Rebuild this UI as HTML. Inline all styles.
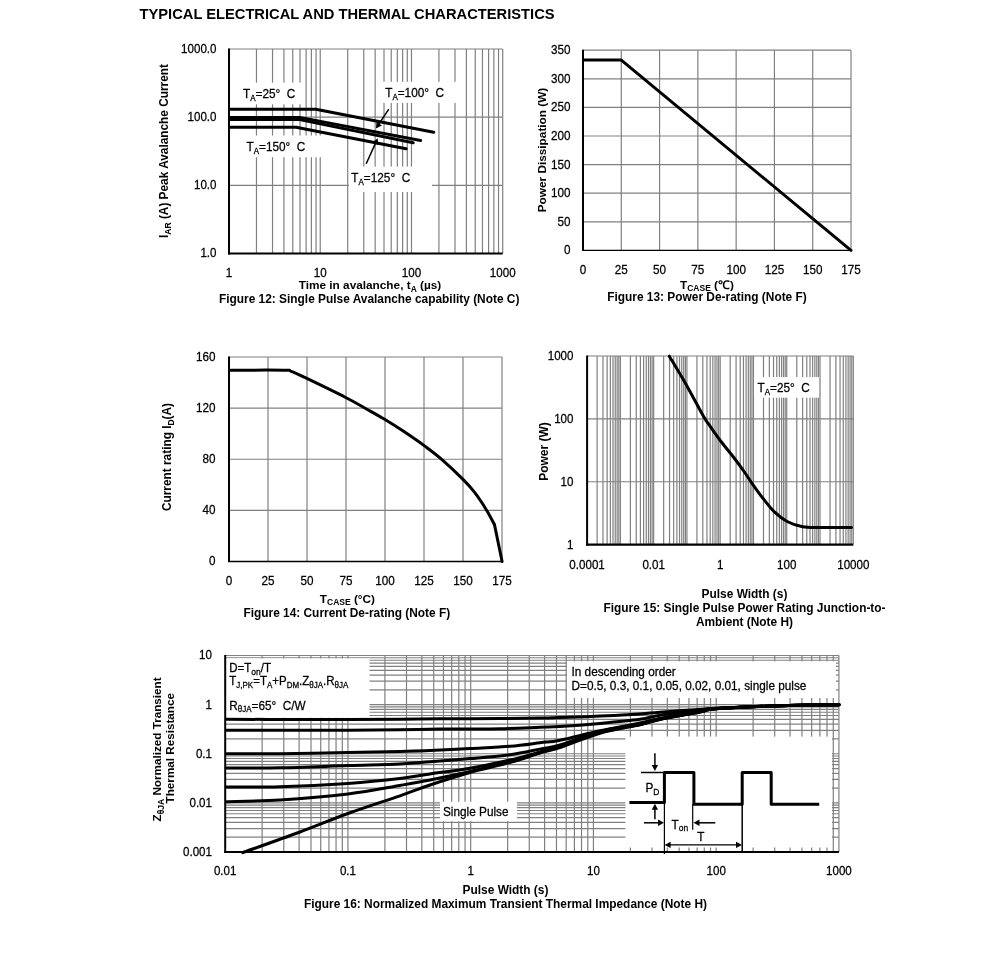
<!DOCTYPE html>
<html><head><meta charset="utf-8"><style>
html,body{margin:0;padding:0;background:#fff;}
svg{display:block;will-change:transform;}
text{font-family:"Liberation Sans",sans-serif;fill:#000;}
text:not([font-weight]){stroke:#000;stroke-width:0.25px;}
</style></head><body>
<svg width="991" height="969" viewBox="0 0 991 969">
<rect width="991" height="969" fill="#fff"/>
<g transform="translate(139.5,18.8) scale(1,1.045)"><text x="0" y="0" font-size="14.71" font-weight="bold" text-anchor="start">TYPICAL ELECTRICAL AND THERMAL CHARACTERISTICS</text></g>
<line x1="256.46" y1="49" x2="256.46" y2="253.5" stroke="#808080" stroke-width="1.2"/>
<line x1="272.53" y1="49" x2="272.53" y2="253.5" stroke="#808080" stroke-width="1.2"/>
<line x1="283.93" y1="49" x2="283.93" y2="253.5" stroke="#808080" stroke-width="1.2"/>
<line x1="292.77" y1="49" x2="292.77" y2="253.5" stroke="#808080" stroke-width="1.2"/>
<line x1="299.99" y1="49" x2="299.99" y2="253.5" stroke="#808080" stroke-width="1.2"/>
<line x1="306.1" y1="49" x2="306.1" y2="253.5" stroke="#808080" stroke-width="1.2"/>
<line x1="311.39" y1="49" x2="311.39" y2="253.5" stroke="#808080" stroke-width="1.2"/>
<line x1="316.06" y1="49" x2="316.06" y2="253.5" stroke="#808080" stroke-width="1.2"/>
<line x1="320.23" y1="49" x2="320.23" y2="253.5" stroke="#808080" stroke-width="1.2"/>
<line x1="347.7" y1="49" x2="347.7" y2="253.5" stroke="#808080" stroke-width="1.2"/>
<line x1="363.76" y1="49" x2="363.76" y2="253.5" stroke="#808080" stroke-width="1.2"/>
<line x1="375.16" y1="49" x2="375.16" y2="253.5" stroke="#808080" stroke-width="1.2"/>
<line x1="384" y1="49" x2="384" y2="253.5" stroke="#808080" stroke-width="1.2"/>
<line x1="391.23" y1="49" x2="391.23" y2="253.5" stroke="#808080" stroke-width="1.2"/>
<line x1="397.33" y1="49" x2="397.33" y2="253.5" stroke="#808080" stroke-width="1.2"/>
<line x1="402.63" y1="49" x2="402.63" y2="253.5" stroke="#808080" stroke-width="1.2"/>
<line x1="407.29" y1="49" x2="407.29" y2="253.5" stroke="#808080" stroke-width="1.2"/>
<line x1="411.47" y1="49" x2="411.47" y2="253.5" stroke="#808080" stroke-width="1.2"/>
<line x1="438.93" y1="49" x2="438.93" y2="253.5" stroke="#808080" stroke-width="1.2"/>
<line x1="455" y1="49" x2="455" y2="253.5" stroke="#808080" stroke-width="1.2"/>
<line x1="466.39" y1="49" x2="466.39" y2="253.5" stroke="#808080" stroke-width="1.2"/>
<line x1="475.24" y1="49" x2="475.24" y2="253.5" stroke="#808080" stroke-width="1.2"/>
<line x1="482.46" y1="49" x2="482.46" y2="253.5" stroke="#808080" stroke-width="1.2"/>
<line x1="488.57" y1="49" x2="488.57" y2="253.5" stroke="#808080" stroke-width="1.2"/>
<line x1="493.86" y1="49" x2="493.86" y2="253.5" stroke="#808080" stroke-width="1.2"/>
<line x1="498.53" y1="49" x2="498.53" y2="253.5" stroke="#808080" stroke-width="1.2"/>
<line x1="502.7" y1="49" x2="502.7" y2="253.5" stroke="#808080" stroke-width="1.2"/>
<line x1="229" y1="185.33" x2="502.7" y2="185.33" stroke="#808080" stroke-width="1.2"/>
<line x1="229" y1="117.17" x2="502.7" y2="117.17" stroke="#808080" stroke-width="1.2"/>
<line x1="229" y1="49" x2="502.7" y2="49" stroke="#808080" stroke-width="1.2"/>
<rect x="230" y="82.6" width="72" height="21.7" fill="#fff"/>
<rect x="230" y="135.5" width="100" height="21.7" fill="#fff"/>
<rect x="377" y="81.8" width="85" height="21.1" fill="#fff"/>
<rect x="348.9" y="166.6" width="83.1" height="25.4" fill="#fff"/>
<line x1="229" y1="48.5" x2="229" y2="254.5" stroke="#000" stroke-width="2"/>
<line x1="228" y1="253.5" x2="502.7" y2="253.5" stroke="#000" stroke-width="2.2"/>
<polyline points="230.5,109.3 315.8,109.3 433.7,132.2" fill="none" stroke="#000" stroke-width="3" stroke-linejoin="round" stroke-linecap="round"/>
<polyline points="230.5,117.4 299.6,117.4 420.6,140.5" fill="none" stroke="#000" stroke-width="3" stroke-linejoin="round" stroke-linecap="round"/>
<polyline points="230.5,119.6 299.6,119.6 413.2,142.8" fill="none" stroke="#000" stroke-width="3" stroke-linejoin="round" stroke-linecap="round"/>
<polyline points="230.5,127.3 296.1,127.3 406.1,148.8" fill="none" stroke="#000" stroke-width="3" stroke-linejoin="round" stroke-linecap="round"/>
<line x1="388.8" y1="109.2" x2="378.67" y2="124.44" stroke="#000" stroke-width="1.5"/>
<polygon points="375.9,128.6 376.56,121.83 381.89,125.38" fill="#000"/>
<line x1="366.2" y1="163.7" x2="375.64" y2="142.85" stroke="#000" stroke-width="1.5"/>
<polygon points="377.7,138.3 378.14,145.09 372.31,142.45" fill="#000"/>
<g transform="translate(243,97.7) scale(1,1.085)"><text x="0" y="0" font-size="11.8" text-anchor="start">T<tspan font-size="8" dy="2.6">A</tspan><tspan dy="-2.6">=</tspan>25°&#160;&#160;C</text></g>
<g transform="translate(246.5,150.7) scale(1,1.085)"><text x="0" y="0" font-size="11.8" text-anchor="start">T<tspan font-size="8" dy="2.6">A</tspan><tspan dy="-2.6">=</tspan>150°&#160;&#160;C</text></g>
<g transform="translate(385.2,96.9) scale(1,1.085)"><text x="0" y="0" font-size="11.8" text-anchor="start">T<tspan font-size="8" dy="2.6">A</tspan><tspan dy="-2.6">=</tspan>100°&#160;&#160;C</text></g>
<g transform="translate(351.3,182) scale(1,1.085)"><text x="0" y="0" font-size="11.8" text-anchor="start">T<tspan font-size="8" dy="2.6">A</tspan><tspan dy="-2.6">=</tspan>125°&#160;&#160;C</text></g>
<g transform="translate(216.5,257.4) scale(1,1.08)"><text x="0" y="0" font-size="11.6" text-anchor="end">1.0</text></g>
<g transform="translate(216.5,189.23) scale(1,1.08)"><text x="0" y="0" font-size="11.6" text-anchor="end">10.0</text></g>
<g transform="translate(216.5,121.07) scale(1,1.08)"><text x="0" y="0" font-size="11.6" text-anchor="end">100.0</text></g>
<g transform="translate(216.5,52.9) scale(1,1.08)"><text x="0" y="0" font-size="11.6" text-anchor="end">1000.0</text></g>
<g transform="translate(229,276.8) scale(1,1.08)"><text x="0" y="0" font-size="11.6" text-anchor="middle">1</text></g>
<g transform="translate(320.23,276.8) scale(1,1.08)"><text x="0" y="0" font-size="11.6" text-anchor="middle">10</text></g>
<g transform="translate(411.47,276.8) scale(1,1.08)"><text x="0" y="0" font-size="11.6" text-anchor="middle">100</text></g>
<g transform="translate(502.7,276.8) scale(1,1.08)"><text x="0" y="0" font-size="11.6" text-anchor="middle">1000</text></g>
<text x="370" y="288.6" font-size="11.8" font-weight="bold" text-anchor="middle">Time in avalanche, t<tspan font-size="8.5" dy="3">A</tspan><tspan dy="-3"> (µs)</tspan></text>
<text x="369.2" y="302.7" font-size="11.9" font-weight="bold" text-anchor="middle">Figure 12: Single Pulse Avalanche capability (Note C)</text>
<text x="0" y="0" font-size="11.85" font-weight="bold" text-anchor="middle" transform="translate(167.9,151) rotate(-90)">I<tspan font-size="8.5" dy="3">AR</tspan><tspan dy="-3"> (A) Peak Avalanche Current</tspan></text>
<line x1="621.29" y1="50.2" x2="621.29" y2="250.4" stroke="#808080" stroke-width="1.2"/>
<line x1="659.57" y1="50.2" x2="659.57" y2="250.4" stroke="#808080" stroke-width="1.2"/>
<line x1="697.86" y1="50.2" x2="697.86" y2="250.4" stroke="#808080" stroke-width="1.2"/>
<line x1="736.14" y1="50.2" x2="736.14" y2="250.4" stroke="#808080" stroke-width="1.2"/>
<line x1="774.43" y1="50.2" x2="774.43" y2="250.4" stroke="#808080" stroke-width="1.2"/>
<line x1="812.71" y1="50.2" x2="812.71" y2="250.4" stroke="#808080" stroke-width="1.2"/>
<line x1="851" y1="50.2" x2="851" y2="250.4" stroke="#808080" stroke-width="1.2"/>
<line x1="583" y1="221.8" x2="851" y2="221.8" stroke="#808080" stroke-width="1.2"/>
<line x1="583" y1="193.2" x2="851" y2="193.2" stroke="#808080" stroke-width="1.2"/>
<line x1="583" y1="164.6" x2="851" y2="164.6" stroke="#808080" stroke-width="1.2"/>
<line x1="583" y1="136" x2="851" y2="136" stroke="#808080" stroke-width="1.2"/>
<line x1="583" y1="107.4" x2="851" y2="107.4" stroke="#808080" stroke-width="1.2"/>
<line x1="583" y1="78.8" x2="851" y2="78.8" stroke="#808080" stroke-width="1.2"/>
<line x1="583" y1="50.2" x2="851" y2="50.2" stroke="#808080" stroke-width="1.2"/>
<line x1="583" y1="49.7" x2="583" y2="250.9" stroke="#000" stroke-width="2"/>
<line x1="582" y1="250.4" x2="851" y2="250.4" stroke="#000" stroke-width="1.3"/>
<polyline points="584.5,60.1 621.3,60.1 851,250.4" fill="none" stroke="#000" stroke-width="3" stroke-linejoin="round" stroke-linecap="round"/>
<g transform="translate(570.5,254.3) scale(1,1.08)"><text x="0" y="0" font-size="11.7" text-anchor="end">0</text></g>
<g transform="translate(583,273.6) scale(1,1.08)"><text x="0" y="0" font-size="11.7" text-anchor="middle">0</text></g>
<g transform="translate(570.5,225.7) scale(1,1.08)"><text x="0" y="0" font-size="11.7" text-anchor="end">50</text></g>
<g transform="translate(621.29,273.6) scale(1,1.08)"><text x="0" y="0" font-size="11.7" text-anchor="middle">25</text></g>
<g transform="translate(570.5,197.1) scale(1,1.08)"><text x="0" y="0" font-size="11.7" text-anchor="end">100</text></g>
<g transform="translate(659.57,273.6) scale(1,1.08)"><text x="0" y="0" font-size="11.7" text-anchor="middle">50</text></g>
<g transform="translate(570.5,168.5) scale(1,1.08)"><text x="0" y="0" font-size="11.7" text-anchor="end">150</text></g>
<g transform="translate(697.86,273.6) scale(1,1.08)"><text x="0" y="0" font-size="11.7" text-anchor="middle">75</text></g>
<g transform="translate(570.5,139.9) scale(1,1.08)"><text x="0" y="0" font-size="11.7" text-anchor="end">200</text></g>
<g transform="translate(736.14,273.6) scale(1,1.08)"><text x="0" y="0" font-size="11.7" text-anchor="middle">100</text></g>
<g transform="translate(570.5,111.3) scale(1,1.08)"><text x="0" y="0" font-size="11.7" text-anchor="end">250</text></g>
<g transform="translate(774.43,273.6) scale(1,1.08)"><text x="0" y="0" font-size="11.7" text-anchor="middle">125</text></g>
<g transform="translate(570.5,82.7) scale(1,1.08)"><text x="0" y="0" font-size="11.7" text-anchor="end">300</text></g>
<g transform="translate(812.71,273.6) scale(1,1.08)"><text x="0" y="0" font-size="11.7" text-anchor="middle">150</text></g>
<g transform="translate(570.5,54.1) scale(1,1.08)"><text x="0" y="0" font-size="11.7" text-anchor="end">350</text></g>
<g transform="translate(851,273.6) scale(1,1.08)"><text x="0" y="0" font-size="11.7" text-anchor="middle">175</text></g>
<text x="680" y="289" font-size="11.8" font-weight="bold" text-anchor="start">T<tspan font-size="8.5" dy="2">CASE</tspan><tspan dy="-2"> (℃)</tspan></text>
<text x="707" y="301.2" font-size="11.9" font-weight="bold" text-anchor="middle">Figure 13: Power De-rating (Note F)</text>
<text x="0" y="0" font-size="11.8" font-weight="bold" text-anchor="middle" transform="translate(545.5,150) rotate(-90)">Power Dissipation (W)</text>
<line x1="268" y1="357" x2="268" y2="561.5" stroke="#808080" stroke-width="1.2"/>
<line x1="307" y1="357" x2="307" y2="561.5" stroke="#808080" stroke-width="1.2"/>
<line x1="346" y1="357" x2="346" y2="561.5" stroke="#808080" stroke-width="1.2"/>
<line x1="385" y1="357" x2="385" y2="561.5" stroke="#808080" stroke-width="1.2"/>
<line x1="424" y1="357" x2="424" y2="561.5" stroke="#808080" stroke-width="1.2"/>
<line x1="463" y1="357" x2="463" y2="561.5" stroke="#808080" stroke-width="1.2"/>
<line x1="502" y1="357" x2="502" y2="561.5" stroke="#808080" stroke-width="1.2"/>
<line x1="229" y1="510.38" x2="502" y2="510.38" stroke="#808080" stroke-width="1.2"/>
<line x1="229" y1="459.25" x2="502" y2="459.25" stroke="#808080" stroke-width="1.2"/>
<line x1="229" y1="408.12" x2="502" y2="408.12" stroke="#808080" stroke-width="1.2"/>
<line x1="229" y1="357" x2="502" y2="357" stroke="#808080" stroke-width="1.2"/>
<line x1="229" y1="356.5" x2="229" y2="562" stroke="#000" stroke-width="2"/>
<line x1="228" y1="561.5" x2="502" y2="561.5" stroke="#000" stroke-width="1.6"/>
<path d="M230.5,370.2 C239.35,370.2 273.48,370 283.6,370.2 C293.72,370.4 287.42,370.07 291.2,371.4 C294.98,372.73 297.22,373.85 306.3,378.2 C315.38,382.55 335.6,392.33 345.7,397.5 C355.8,402.67 360.35,405.53 366.9,409.2 C373.45,412.87 378.95,415.85 385,419.5 C391.05,423.15 396.62,426.7 403.2,431.1 C409.78,435.5 418.32,441.38 424.5,445.9 C430.68,450.42 433.8,452.53 440.3,458.2 C446.8,463.87 457.72,474.12 463.5,479.9 C469.28,485.68 471.15,487.85 475,492.9 C478.85,497.95 483.35,504.9 486.6,510.2 C489.85,515.5 493.18,522.28 494.5,524.7" fill="none" stroke="#000" stroke-width="3" stroke-linejoin="round" stroke-linecap="round"/>
<polyline points="494.5,524.7 502.1,561.5" fill="none" stroke="#000" stroke-width="3" stroke-linejoin="round" stroke-linecap="round"/>
<g transform="translate(215.5,565.4) scale(1,1.08)"><text x="0" y="0" font-size="11.7" text-anchor="end">0</text></g>
<g transform="translate(215.5,514.27) scale(1,1.08)"><text x="0" y="0" font-size="11.7" text-anchor="end">40</text></g>
<g transform="translate(215.5,463.15) scale(1,1.08)"><text x="0" y="0" font-size="11.7" text-anchor="end">80</text></g>
<g transform="translate(215.5,412.02) scale(1,1.08)"><text x="0" y="0" font-size="11.7" text-anchor="end">120</text></g>
<g transform="translate(215.5,360.9) scale(1,1.08)"><text x="0" y="0" font-size="11.7" text-anchor="end">160</text></g>
<g transform="translate(229,584.6) scale(1,1.08)"><text x="0" y="0" font-size="11.7" text-anchor="middle">0</text></g>
<g transform="translate(268,584.6) scale(1,1.08)"><text x="0" y="0" font-size="11.7" text-anchor="middle">25</text></g>
<g transform="translate(307,584.6) scale(1,1.08)"><text x="0" y="0" font-size="11.7" text-anchor="middle">50</text></g>
<g transform="translate(346,584.6) scale(1,1.08)"><text x="0" y="0" font-size="11.7" text-anchor="middle">75</text></g>
<g transform="translate(385,584.6) scale(1,1.08)"><text x="0" y="0" font-size="11.7" text-anchor="middle">100</text></g>
<g transform="translate(424,584.6) scale(1,1.08)"><text x="0" y="0" font-size="11.7" text-anchor="middle">125</text></g>
<g transform="translate(463,584.6) scale(1,1.08)"><text x="0" y="0" font-size="11.7" text-anchor="middle">150</text></g>
<g transform="translate(502,584.6) scale(1,1.08)"><text x="0" y="0" font-size="11.7" text-anchor="middle">175</text></g>
<text x="319.8" y="602.8" font-size="11.8" font-weight="bold" text-anchor="start">T<tspan font-size="8.5" dy="2">CASE</tspan><tspan dy="-2"> (°C)</tspan></text>
<text x="346.8" y="616.8" font-size="11.9" font-weight="bold" text-anchor="middle">Figure 14: Current De-rating (Note F)</text>
<text x="0" y="0" font-size="11.85" font-weight="bold" text-anchor="middle" transform="translate(170.5,457) rotate(-90)">Current rating I<tspan font-size="8.5" dy="3">D</tspan><tspan dy="-3">(A)</tspan></text>
<line x1="597.12" y1="356" x2="597.12" y2="544.6" stroke="#808080" stroke-width="1.2"/>
<line x1="602.98" y1="356" x2="602.98" y2="544.6" stroke="#808080" stroke-width="1.2"/>
<line x1="607.13" y1="356" x2="607.13" y2="544.6" stroke="#808080" stroke-width="1.2"/>
<line x1="610.36" y1="356" x2="610.36" y2="544.6" stroke="#808080" stroke-width="1.2"/>
<line x1="612.99" y1="356" x2="612.99" y2="544.6" stroke="#808080" stroke-width="1.2"/>
<line x1="615.22" y1="356" x2="615.22" y2="544.6" stroke="#808080" stroke-width="1.2"/>
<line x1="617.15" y1="356" x2="617.15" y2="544.6" stroke="#808080" stroke-width="1.2"/>
<line x1="618.85" y1="356" x2="618.85" y2="544.6" stroke="#808080" stroke-width="1.2"/>
<line x1="620.38" y1="356" x2="620.38" y2="544.6" stroke="#808080" stroke-width="1.2"/>
<line x1="630.39" y1="356" x2="630.39" y2="544.6" stroke="#808080" stroke-width="1.2"/>
<line x1="636.25" y1="356" x2="636.25" y2="544.6" stroke="#808080" stroke-width="1.2"/>
<line x1="640.41" y1="356" x2="640.41" y2="544.6" stroke="#808080" stroke-width="1.2"/>
<line x1="643.63" y1="356" x2="643.63" y2="544.6" stroke="#808080" stroke-width="1.2"/>
<line x1="646.27" y1="356" x2="646.27" y2="544.6" stroke="#808080" stroke-width="1.2"/>
<line x1="648.5" y1="356" x2="648.5" y2="544.6" stroke="#808080" stroke-width="1.2"/>
<line x1="650.43" y1="356" x2="650.43" y2="544.6" stroke="#808080" stroke-width="1.2"/>
<line x1="652.13" y1="356" x2="652.13" y2="544.6" stroke="#808080" stroke-width="1.2"/>
<line x1="653.65" y1="356" x2="653.65" y2="544.6" stroke="#808080" stroke-width="1.2"/>
<line x1="663.67" y1="356" x2="663.67" y2="544.6" stroke="#808080" stroke-width="1.2"/>
<line x1="669.53" y1="356" x2="669.53" y2="544.6" stroke="#808080" stroke-width="1.2"/>
<line x1="673.68" y1="356" x2="673.68" y2="544.6" stroke="#808080" stroke-width="1.2"/>
<line x1="676.91" y1="356" x2="676.91" y2="544.6" stroke="#808080" stroke-width="1.2"/>
<line x1="679.54" y1="356" x2="679.54" y2="544.6" stroke="#808080" stroke-width="1.2"/>
<line x1="681.77" y1="356" x2="681.77" y2="544.6" stroke="#808080" stroke-width="1.2"/>
<line x1="683.7" y1="356" x2="683.7" y2="544.6" stroke="#808080" stroke-width="1.2"/>
<line x1="685.4" y1="356" x2="685.4" y2="544.6" stroke="#808080" stroke-width="1.2"/>
<line x1="686.92" y1="356" x2="686.92" y2="544.6" stroke="#808080" stroke-width="1.2"/>
<line x1="696.94" y1="356" x2="696.94" y2="544.6" stroke="#808080" stroke-width="1.2"/>
<line x1="702.8" y1="356" x2="702.8" y2="544.6" stroke="#808080" stroke-width="1.2"/>
<line x1="706.96" y1="356" x2="706.96" y2="544.6" stroke="#808080" stroke-width="1.2"/>
<line x1="710.18" y1="356" x2="710.18" y2="544.6" stroke="#808080" stroke-width="1.2"/>
<line x1="712.82" y1="356" x2="712.82" y2="544.6" stroke="#808080" stroke-width="1.2"/>
<line x1="715.05" y1="356" x2="715.05" y2="544.6" stroke="#808080" stroke-width="1.2"/>
<line x1="716.98" y1="356" x2="716.98" y2="544.6" stroke="#808080" stroke-width="1.2"/>
<line x1="718.68" y1="356" x2="718.68" y2="544.6" stroke="#808080" stroke-width="1.2"/>
<line x1="720.2" y1="356" x2="720.2" y2="544.6" stroke="#808080" stroke-width="1.2"/>
<line x1="730.22" y1="356" x2="730.22" y2="544.6" stroke="#808080" stroke-width="1.2"/>
<line x1="736.08" y1="356" x2="736.08" y2="544.6" stroke="#808080" stroke-width="1.2"/>
<line x1="740.23" y1="356" x2="740.23" y2="544.6" stroke="#808080" stroke-width="1.2"/>
<line x1="743.46" y1="356" x2="743.46" y2="544.6" stroke="#808080" stroke-width="1.2"/>
<line x1="746.09" y1="356" x2="746.09" y2="544.6" stroke="#808080" stroke-width="1.2"/>
<line x1="748.32" y1="356" x2="748.32" y2="544.6" stroke="#808080" stroke-width="1.2"/>
<line x1="750.25" y1="356" x2="750.25" y2="544.6" stroke="#808080" stroke-width="1.2"/>
<line x1="751.95" y1="356" x2="751.95" y2="544.6" stroke="#808080" stroke-width="1.2"/>
<line x1="753.47" y1="356" x2="753.47" y2="544.6" stroke="#808080" stroke-width="1.2"/>
<line x1="763.49" y1="356" x2="763.49" y2="544.6" stroke="#808080" stroke-width="1.2"/>
<line x1="769.35" y1="356" x2="769.35" y2="544.6" stroke="#808080" stroke-width="1.2"/>
<line x1="773.51" y1="356" x2="773.51" y2="544.6" stroke="#808080" stroke-width="1.2"/>
<line x1="776.73" y1="356" x2="776.73" y2="544.6" stroke="#808080" stroke-width="1.2"/>
<line x1="779.37" y1="356" x2="779.37" y2="544.6" stroke="#808080" stroke-width="1.2"/>
<line x1="781.6" y1="356" x2="781.6" y2="544.6" stroke="#808080" stroke-width="1.2"/>
<line x1="783.53" y1="356" x2="783.53" y2="544.6" stroke="#808080" stroke-width="1.2"/>
<line x1="785.23" y1="356" x2="785.23" y2="544.6" stroke="#808080" stroke-width="1.2"/>
<line x1="786.75" y1="356" x2="786.75" y2="544.6" stroke="#808080" stroke-width="1.2"/>
<line x1="796.77" y1="356" x2="796.77" y2="544.6" stroke="#808080" stroke-width="1.2"/>
<line x1="802.63" y1="356" x2="802.63" y2="544.6" stroke="#808080" stroke-width="1.2"/>
<line x1="806.78" y1="356" x2="806.78" y2="544.6" stroke="#808080" stroke-width="1.2"/>
<line x1="810.01" y1="356" x2="810.01" y2="544.6" stroke="#808080" stroke-width="1.2"/>
<line x1="812.64" y1="356" x2="812.64" y2="544.6" stroke="#808080" stroke-width="1.2"/>
<line x1="814.87" y1="356" x2="814.87" y2="544.6" stroke="#808080" stroke-width="1.2"/>
<line x1="816.8" y1="356" x2="816.8" y2="544.6" stroke="#808080" stroke-width="1.2"/>
<line x1="818.5" y1="356" x2="818.5" y2="544.6" stroke="#808080" stroke-width="1.2"/>
<line x1="820.02" y1="356" x2="820.02" y2="544.6" stroke="#808080" stroke-width="1.2"/>
<line x1="830.04" y1="356" x2="830.04" y2="544.6" stroke="#808080" stroke-width="1.2"/>
<line x1="835.9" y1="356" x2="835.9" y2="544.6" stroke="#808080" stroke-width="1.2"/>
<line x1="840.06" y1="356" x2="840.06" y2="544.6" stroke="#808080" stroke-width="1.2"/>
<line x1="843.28" y1="356" x2="843.28" y2="544.6" stroke="#808080" stroke-width="1.2"/>
<line x1="845.92" y1="356" x2="845.92" y2="544.6" stroke="#808080" stroke-width="1.2"/>
<line x1="848.15" y1="356" x2="848.15" y2="544.6" stroke="#808080" stroke-width="1.2"/>
<line x1="850.08" y1="356" x2="850.08" y2="544.6" stroke="#808080" stroke-width="1.2"/>
<line x1="851.78" y1="356" x2="851.78" y2="544.6" stroke="#808080" stroke-width="1.2"/>
<line x1="853.3" y1="356" x2="853.3" y2="544.6" stroke="#808080" stroke-width="1.2"/>
<line x1="587.1" y1="481.73" x2="853.3" y2="481.73" stroke="#808080" stroke-width="1.2"/>
<line x1="587.1" y1="418.87" x2="853.3" y2="418.87" stroke="#808080" stroke-width="1.2"/>
<line x1="587.1" y1="356" x2="853.3" y2="356" stroke="#808080" stroke-width="1.2"/>
<rect x="754" y="377.1" width="65" height="20.6" fill="#fff"/>
<line x1="587.1" y1="355.5" x2="587.1" y2="545.6" stroke="#000" stroke-width="2"/>
<line x1="586.1" y1="544.6" x2="853.3" y2="544.6" stroke="#000" stroke-width="2.2"/>
<path d="M669.3,356.2 C672.05,360.83 680.13,374.03 685.8,384 C691.47,393.97 699.35,409.12 703.3,416 C707.25,422.88 706.55,421.05 709.5,425.3 C712.45,429.55 717.02,436.22 721,441.5 C724.98,446.78 729.62,452.08 733.4,457 C737.18,461.92 740.6,466.62 743.7,471 C746.8,475.38 748.73,478.67 752,483.3 C755.27,487.93 759.52,493.98 763.3,498.8 C767.08,503.62 770.73,508.42 774.7,512.2 C778.67,515.98 782.45,519.08 787.1,521.5 C791.75,523.92 797.12,525.7 802.6,526.7 C808.08,527.7 811.85,527.37 820,527.5 C828.15,527.63 846.25,527.5 851.5,527.5" fill="none" stroke="#000" stroke-width="3" stroke-linejoin="round" stroke-linecap="round"/>
<g transform="translate(757.5,392) scale(1,1.085)"><text x="0" y="0" font-size="11.8" text-anchor="start">T<tspan font-size="8" dy="2.6">A</tspan><tspan dy="-2.6">=</tspan>25°&#160;&#160;C</text></g>
<g transform="translate(573.5,548.5) scale(1,1.08)"><text x="0" y="0" font-size="11.6" text-anchor="end">1</text></g>
<g transform="translate(573.5,485.63) scale(1,1.08)"><text x="0" y="0" font-size="11.6" text-anchor="end">10</text></g>
<g transform="translate(573.5,422.77) scale(1,1.08)"><text x="0" y="0" font-size="11.6" text-anchor="end">100</text></g>
<g transform="translate(573.5,359.9) scale(1,1.08)"><text x="0" y="0" font-size="11.6" text-anchor="end">1000</text></g>
<g transform="translate(587.1,569.4) scale(1,1.08)"><text x="0" y="0" font-size="11.6" text-anchor="middle">0.0001</text></g>
<g transform="translate(653.65,569.4) scale(1,1.08)"><text x="0" y="0" font-size="11.6" text-anchor="middle">0.01</text></g>
<g transform="translate(720.2,569.4) scale(1,1.08)"><text x="0" y="0" font-size="11.6" text-anchor="middle">1</text></g>
<g transform="translate(786.75,569.4) scale(1,1.08)"><text x="0" y="0" font-size="11.6" text-anchor="middle">100</text></g>
<g transform="translate(853.3,569.4) scale(1,1.08)"><text x="0" y="0" font-size="11.6" text-anchor="middle">10000</text></g>
<text x="744.5" y="598.4" font-size="11.9" font-weight="bold" text-anchor="middle">Pulse Width (s)</text>
<text x="744.5" y="612.3" font-size="11.9" font-weight="bold" text-anchor="middle">Figure 15: Single Pulse Power Rating Junction-to-</text>
<text x="744.5" y="625.9" font-size="11.9" font-weight="bold" text-anchor="middle">Ambient (Note H)</text>
<text x="0" y="0" font-size="12" font-weight="bold" text-anchor="middle" transform="translate(548,451.5) rotate(-90)">Power (W)</text>
<line x1="262.15" y1="655.5" x2="262.15" y2="852" stroke="#808080" stroke-width="1.2"/>
<line x1="283.76" y1="655.5" x2="283.76" y2="852" stroke="#808080" stroke-width="1.2"/>
<line x1="299.1" y1="655.5" x2="299.1" y2="852" stroke="#808080" stroke-width="1.2"/>
<line x1="310.99" y1="655.5" x2="310.99" y2="852" stroke="#808080" stroke-width="1.2"/>
<line x1="320.71" y1="655.5" x2="320.71" y2="852" stroke="#808080" stroke-width="1.2"/>
<line x1="328.93" y1="655.5" x2="328.93" y2="852" stroke="#808080" stroke-width="1.2"/>
<line x1="336.05" y1="655.5" x2="336.05" y2="852" stroke="#808080" stroke-width="1.2"/>
<line x1="342.32" y1="655.5" x2="342.32" y2="852" stroke="#808080" stroke-width="1.2"/>
<line x1="347.94" y1="655.5" x2="347.94" y2="852" stroke="#808080" stroke-width="1.2"/>
<line x1="384.89" y1="655.5" x2="384.89" y2="852" stroke="#808080" stroke-width="1.2"/>
<line x1="406.5" y1="655.5" x2="406.5" y2="852" stroke="#808080" stroke-width="1.2"/>
<line x1="421.84" y1="655.5" x2="421.84" y2="852" stroke="#808080" stroke-width="1.2"/>
<line x1="433.73" y1="655.5" x2="433.73" y2="852" stroke="#808080" stroke-width="1.2"/>
<line x1="443.45" y1="655.5" x2="443.45" y2="852" stroke="#808080" stroke-width="1.2"/>
<line x1="451.67" y1="655.5" x2="451.67" y2="852" stroke="#808080" stroke-width="1.2"/>
<line x1="458.79" y1="655.5" x2="458.79" y2="852" stroke="#808080" stroke-width="1.2"/>
<line x1="465.06" y1="655.5" x2="465.06" y2="852" stroke="#808080" stroke-width="1.2"/>
<line x1="470.68" y1="655.5" x2="470.68" y2="852" stroke="#808080" stroke-width="1.2"/>
<line x1="507.63" y1="655.5" x2="507.63" y2="852" stroke="#808080" stroke-width="1.2"/>
<line x1="529.24" y1="655.5" x2="529.24" y2="852" stroke="#808080" stroke-width="1.2"/>
<line x1="544.58" y1="655.5" x2="544.58" y2="852" stroke="#808080" stroke-width="1.2"/>
<line x1="556.47" y1="655.5" x2="556.47" y2="852" stroke="#808080" stroke-width="1.2"/>
<line x1="566.19" y1="655.5" x2="566.19" y2="852" stroke="#808080" stroke-width="1.2"/>
<line x1="574.41" y1="655.5" x2="574.41" y2="852" stroke="#808080" stroke-width="1.2"/>
<line x1="581.53" y1="655.5" x2="581.53" y2="852" stroke="#808080" stroke-width="1.2"/>
<line x1="587.8" y1="655.5" x2="587.8" y2="852" stroke="#808080" stroke-width="1.2"/>
<line x1="593.42" y1="655.5" x2="593.42" y2="852" stroke="#808080" stroke-width="1.2"/>
<line x1="630.37" y1="655.5" x2="630.37" y2="852" stroke="#808080" stroke-width="1.2"/>
<line x1="651.98" y1="655.5" x2="651.98" y2="852" stroke="#808080" stroke-width="1.2"/>
<line x1="667.32" y1="655.5" x2="667.32" y2="852" stroke="#808080" stroke-width="1.2"/>
<line x1="679.21" y1="655.5" x2="679.21" y2="852" stroke="#808080" stroke-width="1.2"/>
<line x1="688.93" y1="655.5" x2="688.93" y2="852" stroke="#808080" stroke-width="1.2"/>
<line x1="697.15" y1="655.5" x2="697.15" y2="852" stroke="#808080" stroke-width="1.2"/>
<line x1="704.27" y1="655.5" x2="704.27" y2="852" stroke="#808080" stroke-width="1.2"/>
<line x1="710.54" y1="655.5" x2="710.54" y2="852" stroke="#808080" stroke-width="1.2"/>
<line x1="716.16" y1="655.5" x2="716.16" y2="852" stroke="#808080" stroke-width="1.2"/>
<line x1="753.11" y1="655.5" x2="753.11" y2="852" stroke="#808080" stroke-width="1.2"/>
<line x1="774.72" y1="655.5" x2="774.72" y2="852" stroke="#808080" stroke-width="1.2"/>
<line x1="790.06" y1="655.5" x2="790.06" y2="852" stroke="#808080" stroke-width="1.2"/>
<line x1="801.95" y1="655.5" x2="801.95" y2="852" stroke="#808080" stroke-width="1.2"/>
<line x1="811.67" y1="655.5" x2="811.67" y2="852" stroke="#808080" stroke-width="1.2"/>
<line x1="819.89" y1="655.5" x2="819.89" y2="852" stroke="#808080" stroke-width="1.2"/>
<line x1="827.01" y1="655.5" x2="827.01" y2="852" stroke="#808080" stroke-width="1.2"/>
<line x1="833.28" y1="655.5" x2="833.28" y2="852" stroke="#808080" stroke-width="1.2"/>
<line x1="838.9" y1="655.5" x2="838.9" y2="852" stroke="#808080" stroke-width="1.2"/>
<line x1="225.2" y1="837.21" x2="838.9" y2="837.21" stroke="#808080" stroke-width="1.2"/>
<line x1="225.2" y1="828.56" x2="838.9" y2="828.56" stroke="#808080" stroke-width="1.2"/>
<line x1="225.2" y1="822.42" x2="838.9" y2="822.42" stroke="#808080" stroke-width="1.2"/>
<line x1="225.2" y1="817.66" x2="838.9" y2="817.66" stroke="#808080" stroke-width="1.2"/>
<line x1="225.2" y1="813.77" x2="838.9" y2="813.77" stroke="#808080" stroke-width="1.2"/>
<line x1="225.2" y1="810.48" x2="838.9" y2="810.48" stroke="#808080" stroke-width="1.2"/>
<line x1="225.2" y1="807.64" x2="838.9" y2="807.64" stroke="#808080" stroke-width="1.2"/>
<line x1="225.2" y1="805.12" x2="838.9" y2="805.12" stroke="#808080" stroke-width="1.2"/>
<line x1="225.2" y1="802.88" x2="838.9" y2="802.88" stroke="#808080" stroke-width="1.2"/>
<line x1="225.2" y1="788.09" x2="838.9" y2="788.09" stroke="#808080" stroke-width="1.2"/>
<line x1="225.2" y1="779.44" x2="838.9" y2="779.44" stroke="#808080" stroke-width="1.2"/>
<line x1="225.2" y1="773.3" x2="838.9" y2="773.3" stroke="#808080" stroke-width="1.2"/>
<line x1="225.2" y1="768.54" x2="838.9" y2="768.54" stroke="#808080" stroke-width="1.2"/>
<line x1="225.2" y1="764.65" x2="838.9" y2="764.65" stroke="#808080" stroke-width="1.2"/>
<line x1="225.2" y1="761.36" x2="838.9" y2="761.36" stroke="#808080" stroke-width="1.2"/>
<line x1="225.2" y1="758.51" x2="838.9" y2="758.51" stroke="#808080" stroke-width="1.2"/>
<line x1="225.2" y1="756" x2="838.9" y2="756" stroke="#808080" stroke-width="1.2"/>
<line x1="225.2" y1="753.75" x2="838.9" y2="753.75" stroke="#808080" stroke-width="1.2"/>
<line x1="225.2" y1="738.96" x2="838.9" y2="738.96" stroke="#808080" stroke-width="1.2"/>
<line x1="225.2" y1="730.31" x2="838.9" y2="730.31" stroke="#808080" stroke-width="1.2"/>
<line x1="225.2" y1="724.17" x2="838.9" y2="724.17" stroke="#808080" stroke-width="1.2"/>
<line x1="225.2" y1="719.41" x2="838.9" y2="719.41" stroke="#808080" stroke-width="1.2"/>
<line x1="225.2" y1="715.52" x2="838.9" y2="715.52" stroke="#808080" stroke-width="1.2"/>
<line x1="225.2" y1="712.23" x2="838.9" y2="712.23" stroke="#808080" stroke-width="1.2"/>
<line x1="225.2" y1="709.39" x2="838.9" y2="709.39" stroke="#808080" stroke-width="1.2"/>
<line x1="225.2" y1="706.87" x2="838.9" y2="706.87" stroke="#808080" stroke-width="1.2"/>
<line x1="225.2" y1="704.62" x2="838.9" y2="704.62" stroke="#808080" stroke-width="1.2"/>
<line x1="225.2" y1="689.84" x2="838.9" y2="689.84" stroke="#808080" stroke-width="1.2"/>
<line x1="225.2" y1="681.19" x2="838.9" y2="681.19" stroke="#808080" stroke-width="1.2"/>
<line x1="225.2" y1="675.05" x2="838.9" y2="675.05" stroke="#808080" stroke-width="1.2"/>
<line x1="225.2" y1="670.29" x2="838.9" y2="670.29" stroke="#808080" stroke-width="1.2"/>
<line x1="225.2" y1="666.4" x2="838.9" y2="666.4" stroke="#808080" stroke-width="1.2"/>
<line x1="225.2" y1="663.11" x2="838.9" y2="663.11" stroke="#808080" stroke-width="1.2"/>
<line x1="225.2" y1="660.26" x2="838.9" y2="660.26" stroke="#808080" stroke-width="1.2"/>
<line x1="225.2" y1="657.75" x2="838.9" y2="657.75" stroke="#808080" stroke-width="1.2"/>
<line x1="225.2" y1="655.5" x2="838.9" y2="655.5" stroke="#808080" stroke-width="1.2"/>
<rect x="226" y="658.5" width="143.5" height="59.2" fill="#fff"/>
<rect x="567" y="661.3" width="269" height="36.7" fill="#fff"/>
<rect x="440" y="801.8" width="76.9" height="19.4" fill="#fff"/>
<rect x="625.4" y="736.6" width="206.6" height="110.9" fill="#fff"/>
<line x1="225.2" y1="655" x2="225.2" y2="853" stroke="#000" stroke-width="2"/>
<line x1="224.2" y1="852" x2="838.9" y2="852" stroke="#000" stroke-width="2.2"/>
<path d="M226.5,719.2 C235.42,719.25 259.75,719.45 280,719.5 C300.25,719.55 328,719.55 348,719.5 C368,719.45 384.67,719.32 400,719.2 C415.33,719.08 423.33,718.9 440,718.8 C456.67,718.7 483.33,718.73 500,718.6 C516.67,718.47 530,718.17 540,718 C550,717.83 550,717.92 560,717.6 C570,717.28 586.67,716.7 600,716.1 C613.33,715.5 630,714.65 640,714 C650,713.35 650,712.95 660,712.2 C670,711.45 690.67,710.15 700,709.5 C709.33,708.85 702.67,708.92 716,708.3 C729.33,707.68 759.5,706.4 780,705.8 C800.5,705.2 829.17,704.88 839,704.7" fill="none" stroke="#000" stroke-width="3" stroke-linejoin="round" stroke-linecap="round"/>
<path d="M226.5,730.3 C235.42,730.28 259.75,730.22 280,730.2 C300.25,730.18 328,730.28 348,730.2 C368,730.12 384.67,729.88 400,729.7 C415.33,729.52 423.33,729.27 440,729.1 C456.67,728.93 483.33,729.02 500,728.7 C516.67,728.38 530,727.57 540,727.2 C550,726.83 550,727.13 560,726.5 C570,725.87 586.67,724.6 600,723.4 C613.33,722.2 630,720.67 640,719.3 C650,717.93 650,716.75 660,715.2 C670,713.65 690.67,711.12 700,710 C709.33,708.88 702.67,709.2 716,708.5 C729.33,707.8 759.5,706.43 780,705.8 C800.5,705.17 829.17,704.88 839,704.7" fill="none" stroke="#000" stroke-width="3" stroke-linejoin="round" stroke-linecap="round"/>
<path d="M226.5,753.7 C235.42,753.7 259.75,753.88 280,753.7 C300.25,753.52 328,752.98 348,752.6 C368,752.22 386.33,751.75 400,751.4 C413.67,751.05 418.33,750.98 430,750.5 C441.67,750.02 456.67,749.2 470,748.5 C483.33,747.8 498.33,747.25 510,746.3 C521.67,745.35 531.67,743.82 540,742.8 C548.33,741.78 550,742.2 560,740.2 C570,738.2 586.67,733.67 600,730.8 C613.33,727.93 630,725.05 640,723 C650,720.95 650,720.5 660,718.5 C670,716.5 690.67,712.65 700,711 C709.33,709.35 702.67,709.47 716,708.6 C729.33,707.73 759.5,706.45 780,705.8 C800.5,705.15 829.17,704.88 839,704.7" fill="none" stroke="#000" stroke-width="3" stroke-linejoin="round" stroke-linecap="round"/>
<path d="M226.5,768.1 C235.42,768.05 259.75,768.22 280,767.8 C300.25,767.38 328,766.23 348,765.6 C368,764.97 386.33,764.63 400,764 C413.67,763.37 418.33,762.7 430,761.8 C441.67,760.9 456.67,759.78 470,758.6 C483.33,757.42 498.33,756.28 510,754.7 C521.67,753.12 531.67,750.72 540,749.1 C548.33,747.48 550,747.95 560,745 C570,742.05 586.67,734.93 600,731.4 C613.33,727.87 630,725.9 640,723.8 C650,721.7 650,720.85 660,718.8 C670,716.75 690.67,713.18 700,711.5 C709.33,709.82 702.67,709.65 716,708.7 C729.33,707.75 759.5,706.47 780,705.8 C800.5,705.13 829.17,704.88 839,704.7" fill="none" stroke="#000" stroke-width="3" stroke-linejoin="round" stroke-linecap="round"/>
<path d="M226.5,787 C235.42,786.97 259.75,787.38 280,786.8 C300.25,786.22 328,784.87 348,783.5 C368,782.13 386.33,780.2 400,778.6 C413.67,777 418.33,775.63 430,773.9 C441.67,772.17 456.67,770.52 470,768.2 C483.33,765.88 498.33,762.7 510,760 C521.67,757.3 531.67,754.33 540,752 C548.33,749.67 550,749.33 560,746 C570,742.67 586.67,735.63 600,732 C613.33,728.37 630,726.37 640,724.2 C650,722.03 650,721.07 660,719 C670,716.93 690.67,713.5 700,711.8 C709.33,710.1 702.67,709.8 716,708.8 C729.33,707.8 759.5,706.48 780,705.8 C800.5,705.12 829.17,704.88 839,704.7" fill="none" stroke="#000" stroke-width="3" stroke-linejoin="round" stroke-linecap="round"/>
<path d="M226.5,801.7 C235.42,801.42 259.75,801.3 280,800 C300.25,798.7 328,796.33 348,793.9 C368,791.47 386.33,787.72 400,785.4 C413.67,783.08 418.33,782.32 430,780 C441.67,777.68 456.67,774.58 470,771.5 C483.33,768.42 498.33,764.67 510,761.5 C521.67,758.33 531.67,754.95 540,752.5 C548.33,750.05 550,750.12 560,746.8 C570,743.48 586.67,736.32 600,732.6 C613.33,728.88 630,726.73 640,724.5 C650,722.27 650,721.28 660,719.2 C670,717.12 690.67,713.73 700,712 C709.33,710.27 702.67,709.83 716,708.8 C729.33,707.77 759.5,706.48 780,705.8 C800.5,705.12 829.17,704.88 839,704.7" fill="none" stroke="#000" stroke-width="3" stroke-linejoin="round" stroke-linecap="round"/>
<path d="M242.7,852.6 C252.25,849.17 282.45,838.52 300,832 C317.55,825.48 331.33,819.53 348,813.5 C364.67,807.47 386.33,800.55 400,795.8 C413.67,791.05 418.33,788.88 430,785 C441.67,781.12 456.67,776.25 470,772.5 C483.33,768.75 498.33,765.75 510,762.5 C521.67,759.25 531.67,755.5 540,753 C548.33,750.5 550,750.8 560,747.5 C570,744.2 586.67,736.98 600,733.2 C613.33,729.42 630,727.08 640,724.8 C650,722.52 650,721.63 660,719.5 C670,717.37 690.67,713.78 700,712 C709.33,710.22 702.67,709.83 716,708.8 C729.33,707.77 759.5,706.48 780,705.8 C800.5,705.12 829.17,704.88 839,704.7" fill="none" stroke="#000" stroke-width="3" stroke-linejoin="round" stroke-linecap="round"/>
<g transform="translate(229.3,671.8) scale(1,1.085)"><text x="0" y="0" font-size="11.5" text-anchor="start">D=T<tspan font-size="8.5" dy="2.6">on</tspan><tspan dy="-2.6">/T</tspan></text></g>
<g transform="translate(229.3,685.4) scale(1,1.085)"><text x="0" y="0" font-size="11.5" text-anchor="start">T<tspan font-size="8" dy="2.6">J,PK</tspan><tspan dy="-2.6">=T</tspan><tspan font-size="8" dy="2.6">A</tspan><tspan dy="-2.6">+P</tspan><tspan font-size="8" dy="2.6">DM</tspan><tspan dy="-2.6">.Z</tspan><tspan font-size="8" dy="2.6">θJA</tspan><tspan dy="-2.6">.R</tspan><tspan font-size="8" dy="2.6">θJA</tspan></text></g>
<g transform="translate(229.3,709.6) scale(1,1.085)"><text x="0" y="0" font-size="11.8" text-anchor="start">R<tspan font-size="8" dy="2.6">θJA</tspan><tspan dy="-2.6">=65°&#160;&#160;C/W</tspan></text></g>
<g transform="translate(571.5,675.9) scale(1,1.085)"><text x="0" y="0" font-size="11.8" text-anchor="start">In descending order</text></g>
<g transform="translate(571.5,690.1) scale(1,1.085)"><text x="0" y="0" font-size="11.8" text-anchor="start">D=0.5, 0.3, 0.1, 0.05, 0.02, 0.01, single pulse</text></g>
<g transform="translate(443,815.7) scale(1,1.085)"><text x="0" y="0" font-size="11.8" text-anchor="start">Single Pulse</text></g>
<polyline points="629.4,802.6 664.4,802.6 664.4,772.5 693.9,772.5 693.9,804.3 742.2,804.3 742.2,772.5 771.2,772.5 771.2,804.3 819.2,804.3" fill="none" stroke="#000" stroke-width="3" stroke-linejoin="round" stroke-linecap="butt"/>
<line x1="641" y1="772.5" x2="664" y2="772.5" stroke="#000" stroke-width="1.5"/>
<line x1="654.9" y1="753.2" x2="654.9" y2="766" stroke="#000" stroke-width="1.5"/>
<polygon points="654.9,771 651.7,765 658.1,765" fill="#000"/>
<line x1="654.9" y1="819.3" x2="654.9" y2="808.8" stroke="#000" stroke-width="1.5"/>
<polygon points="654.9,803.8 658.1,809.8 651.7,809.8" fill="#000"/>
<g transform="translate(645.5,792) scale(1,1.085)"><text x="0" y="0" font-size="11.8" text-anchor="start">P<tspan font-size="8.5" dy="2.6">D</tspan></text></g>
<line x1="664.4" y1="802" x2="664.4" y2="854" stroke="#000" stroke-width="1.2"/>
<line x1="692.7" y1="804" x2="692.7" y2="829.8" stroke="#000" stroke-width="1.2"/>
<line x1="742.2" y1="804" x2="742.2" y2="853" stroke="#000" stroke-width="1.5"/>
<line x1="644" y1="822.8" x2="659" y2="822.8" stroke="#000" stroke-width="1.5"/>
<polygon points="664,822.8 658,826 658,819.6" fill="#000"/>
<line x1="715.3" y1="822.8" x2="698.5" y2="822.8" stroke="#000" stroke-width="1.5"/>
<polygon points="693.5,822.8 699.5,819.6 699.5,826" fill="#000"/>
<g transform="translate(671.5,828.6) scale(1,1.085)"><text x="0" y="0" font-size="11.8" text-anchor="start">T<tspan font-size="8.5" dy="2.6">on</tspan></text></g>
<g transform="translate(697.3,841.4) scale(1,1.085)"><text x="0" y="0" font-size="11.8" text-anchor="start">T</text></g>
<line x1="670" y1="844.9" x2="736.5" y2="844.9" stroke="#000" stroke-width="1.2"/>
<polygon points="664.6,844.9 670.6,841.7 670.6,848.1" fill="#000"/>
<polygon points="742,844.9 736,848.1 736,841.7" fill="#000"/>
<g transform="translate(212,855.9) scale(1,1.08)"><text x="0" y="0" font-size="11.6" text-anchor="end">0.001</text></g>
<g transform="translate(212,806.77) scale(1,1.08)"><text x="0" y="0" font-size="11.6" text-anchor="end">0.01</text></g>
<g transform="translate(212,757.65) scale(1,1.08)"><text x="0" y="0" font-size="11.6" text-anchor="end">0.1</text></g>
<g transform="translate(212,708.52) scale(1,1.08)"><text x="0" y="0" font-size="11.6" text-anchor="end">1</text></g>
<g transform="translate(212,659.4) scale(1,1.08)"><text x="0" y="0" font-size="11.6" text-anchor="end">10</text></g>
<g transform="translate(225.2,874.7) scale(1,1.08)"><text x="0" y="0" font-size="11.6" text-anchor="middle">0.01</text></g>
<g transform="translate(347.94,874.7) scale(1,1.08)"><text x="0" y="0" font-size="11.6" text-anchor="middle">0.1</text></g>
<g transform="translate(470.68,874.7) scale(1,1.08)"><text x="0" y="0" font-size="11.6" text-anchor="middle">1</text></g>
<g transform="translate(593.42,874.7) scale(1,1.08)"><text x="0" y="0" font-size="11.6" text-anchor="middle">10</text></g>
<g transform="translate(716.16,874.7) scale(1,1.08)"><text x="0" y="0" font-size="11.6" text-anchor="middle">100</text></g>
<g transform="translate(838.9,874.7) scale(1,1.08)"><text x="0" y="0" font-size="11.6" text-anchor="middle">1000</text></g>
<text x="505.5" y="893.8" font-size="11.9" font-weight="bold" text-anchor="middle">Pulse Width (s)</text>
<text x="505.5" y="908" font-size="11.9" font-weight="bold" text-anchor="middle">Figure 16: Normalized Maximum Transient Thermal Impedance (Note H)</text>
<text x="0" y="0" font-size="11.7" font-weight="bold" text-anchor="middle" transform="translate(161.2,749.4) rotate(-90)">Z<tspan font-size="8.5" dy="3">θJA</tspan><tspan dy="-3"> Normalized Transient</tspan></text>
<text x="0" y="0" font-size="11.7" font-weight="bold" text-anchor="middle" transform="translate(174.2,748.2) rotate(-90)">Thermal Resistance</text>
</svg></body></html>
